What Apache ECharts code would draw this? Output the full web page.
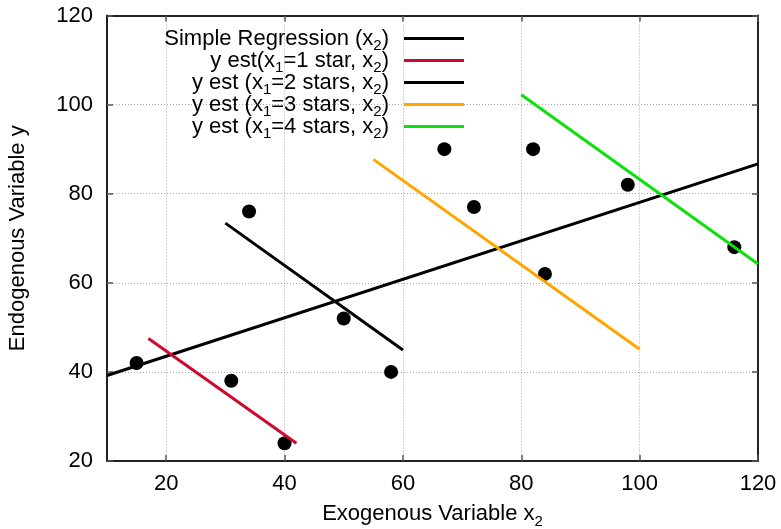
<!DOCTYPE html>
<html>
<head>
<meta charset="utf-8">
<script src="https://cdn.jsdelivr.net/npm/echarts@6/dist/echarts.min.js"></script>
<style>
html,body{margin:0;padding:0;background:#fff;}
#chart{width:781px;height:529px;}
</style>
</head>
<body>
<div id="chart"></div>
<script>
// ---- data ----
const xTicks = [20, 40, 60, 80, 100, 120];
const yTicks = [20, 40, 60, 80, 100, 120];

const pointsX = [15, 31, 34, 40, 50, 58, 67, 72, 82, 84, 98, 116];
const pointsY = [42, 38, 76, 24, 52, 40, 90, 77, 90, 62, 82, 68];

const regX = [10, 120];
const regY = [39.2, 86.7];
const star1X = [17, 42];
const star1Y = [47.5, 24.0];
const star2X = [30, 60];
const star2Y = [73.4, 44.9];
const star3X = [55, 100];
const star3Y = [87.7, 45.1];
const star4X = [80, 120];
const star4Y = [102.2, 64.2];

const seriesNames = [
  'Simple Regression (x2)',
  'y est(x1=1 star, x2)',
  'y est (x1=2 stars, x2)',
  'y est (x1=3 stars, x2)',
  'y est (x1=4 stars, x2)'
];
const legendLabels = [
  'Simple Regression (x{s|2})',
  'y est(x{s|1}=1 star, x{s|2})',
  'y est (x{s|1}=2 stars, x{s|2})',
  'y est (x{s|1}=3 stars, x{s|2})',
  'y est (x{s|1}=4 stars, x{s|2})'
];
const xName = 'Exogenous Variable x{s|2}';
const yName = 'Endogenous Variable y';

// ---- build ----
const FONT = 'Liberation Sans';
const FS = 22;
const subStyle = { fontFamily: FONT, fontSize: 15, lineHeight: 22, padding: [14, 0, 0, 0], color: '#000' };
const zip = (xs, ys) => xs.map((x, i) => [x, ys[i]]);

const lineSets = [
  [regX, regY, '#000000'],
  [star1X, star1Y, '#cc0a30'],
  [star2X, star2Y, '#000000'],
  [star3X, star3Y, '#ffa500'],
  [star4X, star4Y, '#0ee00e']
];

const series = [{
  type: 'scatter',
  name: 'data',
  data: zip(pointsX, pointsY),
  symbol: 'circle',
  symbolSize: 14,
  itemStyle: { color: '#000', opacity: 1 },
  z: 2
}];
lineSets.forEach((ls, i) => {
  series.push({
    type: 'line',
    name: seriesNames[i],
    data: zip(ls[0], ls[1]),
    symbol: 'none',
    lineStyle: { color: ls[2], width: 3 },
    itemStyle: { color: ls[2] },
    z: 3
  });
});

const gridLine = { show: true, lineStyle: { color: '#a8a8a8', type: [1, 2], width: 1 } };
const borderLine = { show: true, onZero: false, lineStyle: { color: '#222', width: 2 } };
const tickStyle = { show: true, inside: true, length: 6, lineStyle: { color: '#555', width: 1.5 } };

const option = {
  animation: false,
  backgroundColor: '#fff',
  textStyle: { fontFamily: FONT },
  grid: { left: 107, right: 23, top: 15.5, bottom: 68, containLabel: false, outerBoundsMode: 'none' },
  legend: {
    data: seriesNames,
    orient: 'vertical',
    align: 'right',
    right: 317,
    top: 24,
    padding: 0,
    itemGap: -7,
    itemWidth: 60,
    itemHeight: 3,
    icon: 'rect',
    formatter: name => legendLabels[seriesNames.indexOf(name)],
    textStyle: {
      fontFamily: FONT, fontSize: FS, color: '#000', lineHeight: 22,
      padding: [0, 10, 0, 0],
      rich: { s: subStyle }
    }
  },
  xAxis: [{
    type: 'value', min: 10, max: 120, position: 'bottom',
    axisLine: borderLine,
    axisTick: Object.assign({ customValues: xTicks }, tickStyle),
    splitLine: gridLine,
    axisLabel: { customValues: xTicks, fontFamily: FONT, fontSize: FS, color: '#000', margin: 12 },
    name: xName, nameLocation: 'middle', nameGap: 42,
    nameTextStyle: { fontFamily: FONT, fontSize: FS, color: '#000', lineHeight: 22, rich: { s: subStyle } }
  }, {
    type: 'value', min: 10, max: 120, position: 'top',
    axisLine: borderLine,
    axisTick: Object.assign({ customValues: xTicks }, tickStyle),
    axisLabel: { show: false },
    splitLine: { show: false }
  }],
  yAxis: [{
    type: 'value', min: 20, max: 120, interval: 20, position: 'left',
    axisLine: borderLine,
    axisTick: tickStyle,
    splitLine: gridLine,
    axisLabel: { fontFamily: FONT, fontSize: FS, color: '#000', margin: 14 },
    name: yName, nameLocation: 'middle', nameGap: 78,
    nameTextStyle: { fontFamily: FONT, fontSize: FS, color: '#000' }
  }, {
    type: 'value', min: 20, max: 120, interval: 20, position: 'right',
    axisLine: borderLine,
    axisTick: tickStyle,
    axisLabel: { show: false },
    splitLine: { show: false }
  }],
  series: series
};

const chart = echarts.init(document.getElementById('chart'), null, { renderer: 'canvas' });
chart.setOption(option);
</script>
</body>
</html>
